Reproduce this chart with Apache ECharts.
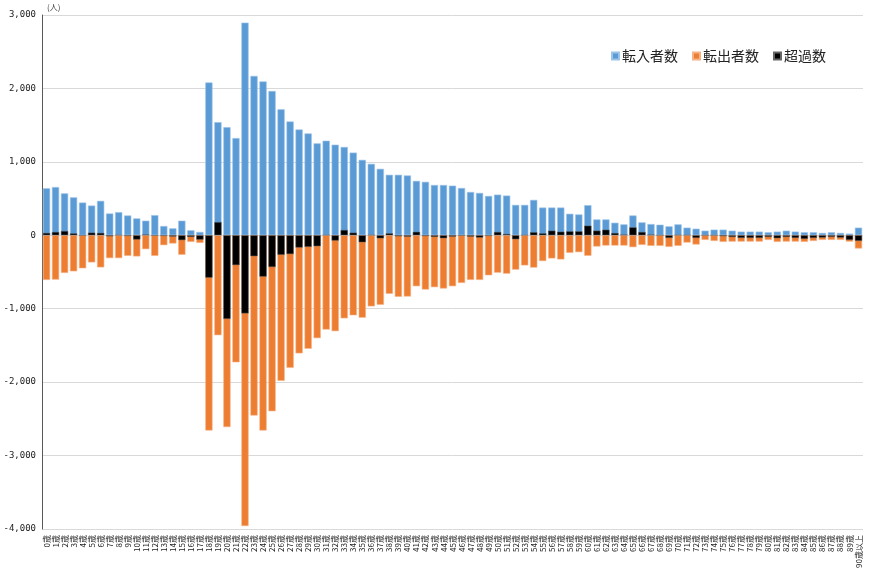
<!DOCTYPE html>
<html><head><meta charset="utf-8">
<script src="https://cdn.jsdelivr.net/npm/echarts@6/dist/echarts.min.js"></script>
<style>html,body{margin:0;padding:0;background:#fff}#c{width:870px;height:573px}</style>
</head><body><div id="c"></div>
<script>
const ages = [];
for (let i = 0; i < 90; i++) ages.push(i + '歳');
ages.push('90歳以上');

const inflow = [640,657,571,517,446,405,469,297,315,270,230,199,274,126,95,199,68,45,
2081,1541,1473,1324,2896,2170,2095,1964,1716,1550,1441,1387,1252,1288,1234,1203,1126,1027,973,905,824,824,
815,741,728,685,685,676,644,590,577,536,554,541,414,414,482,378,378,378,293,284,410,216,216,171,149,270,176,
153,144,122,149,104,90,63,77,77,63,50,50,50,41,50,63,50,41,41,32,41,32,23,104];

const outflow = [-608,-604,-513,-491,-450,-369,-437,-311,-311,-280,-288,-189,-280,-135,-112,-265,-90,-104,
-2658,-1361,-2612,-1730,-3960,-2455,-2658,-2396,-1982,-1806,-1608,-1545,-1401,-1284,-1306,-1131,-1090,-1122,-968,-946,-797,-838,
-834,-694,-739,-707,-725,-694,-649,-608,-608,-545,-509,-523,-468,-410,-440,-351,-315,-329,-239,-230,-279,-153,-140,-140,-140,-162,-131,
-144,-144,-158,-144,-99,-126,-63,-77,-90,-86,-86,-86,-86,-63,-90,-86,-86,-90,-77,-63,-63,-63,-86,-180];

const net = [32,45,58,26,-4,36,32,-14,4,-10,-58,10,-6,-9,-17,-66,-22,-59,
-577,180,-1139,-406,-1064,-285,-563,-432,-266,-256,-167,-158,-149,4,-72,72,36,-95,5,-41,27,-14,
-19,47,-11,-22,-40,-18,-5,-18,-31,-9,45,18,-54,4,42,27,63,49,54,54,131,63,76,31,9,108,45,
9,0,-36,5,5,-36,0,0,-13,-23,-36,-36,-36,-22,-40,-23,-36,-49,-36,-31,-22,-31,-63,-76];

const yTicks = {min: -4000, max: 3000, interval: 1000};
const seriesNames = ['転入者数', '転出者数', '超過数'];

const chart = echarts.init(document.getElementById('c'), null, {renderer: 'canvas'});
const barCommon = {type: 'bar', barGap: '-100%', barCategoryGap: '20%', animation: false};
chart.setOption({
  animation: false,
  grid: {left: 42, right: 7, top: 15, bottom: 44, containLabel: false},
  legend: {
    data: seriesNames, left: 606, top: 44, icon: 'rect', itemWidth: 7, itemHeight: 7, itemGap: 14,
    textStyle: {fontSize: 14, color: '#222', fontFamily: 'Noto Sans CJK JP', padding: [0,0,0,-2]}
  },
  graphic: [{type: 'text', left: 47, top: 3, style: {text: '(人)', fontSize: 8, fill: '#444', fontFamily: 'Noto Sans CJK JP'}}],
  xAxis: {
    type: 'category', data: ages,
    axisLine: {show: false, onZero: false}, axisTick: {show: false},
    axisLabel: {interval: 0, rotate: 90, fontSize: 8, color: '#222', margin: 6, fontFamily: 'Noto Sans CJK JP'}
  },
  yAxis: {
    type: 'value', min: yTicks.min, max: yTicks.max, interval: yTicks.interval,
    axisLine: {show: true, lineStyle: {color: '#595959', width: 1}}, axisTick: {show: false},
    splitLine: {lineStyle: {color: '#d9d9d9', width: 1}},
    axisLabel: {fontSize: 9, color: '#222', margin: 6, fontFamily: 'DejaVu Sans Mono',
      formatter: v => (v < 0 ? '-' : '') + Math.abs(v).toLocaleString('en-US')}
  },
  series: [
    Object.assign({}, barCommon, {name: seriesNames[0], data: inflow, itemStyle: {color: '#5b9bd5', borderColor: '#9cc3e8', borderWidth: 0.6}}),
    Object.assign({}, barCommon, {name: seriesNames[1], data: outflow, itemStyle: {color: '#ed7d31', borderColor: '#f5b287', borderWidth: 0.6}}),
    Object.assign({}, barCommon, {name: seriesNames[2], data: net, itemStyle: {color: '#000000', borderColor: '#666', borderWidth: 0.5}})
  ]
});
</script></body></html>
